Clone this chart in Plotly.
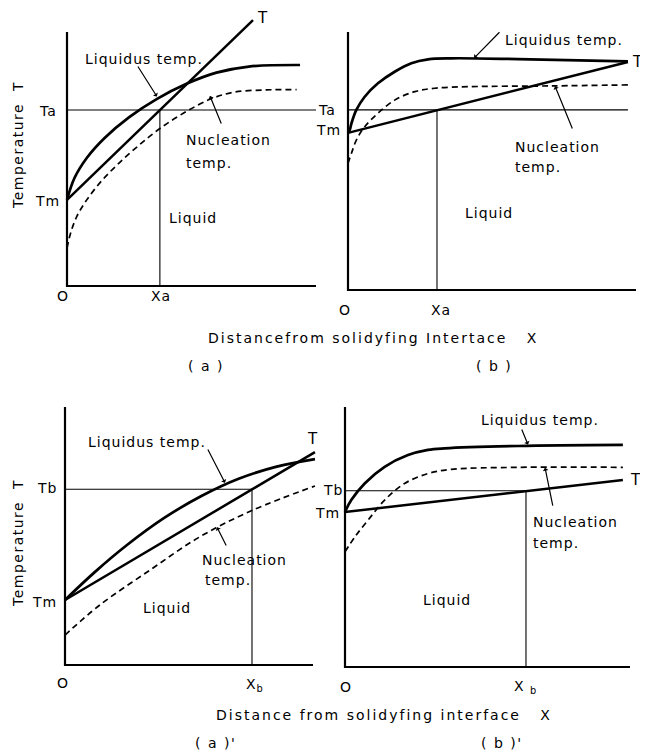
import plotly.graph_objects as go

# page body has an 8px default margin -> the figure is placed at (8, 8)
OFF = 8
W, H = 640, 746
FONT = "DejaVu Sans"

# ---------------- data (arbitrary units: axis length = 100) ----------------
# Panel (a)
A_LIQ_X = [0, 3, 8, 15, 25, 36, 48, 60, 73, 93.6]
A_LIQ_Y = [33.9, 42.5, 50.5, 58.2, 66.5, 73.6, 79.6, 84.0, 86.4, 87.0]
A_NUC_X = [0, 1.5, 4, 8, 14, 21, 29, 37.3, 46.7, 57.4, 67, 80, 92.2]
A_NUC_Y = [14.9, 21.0, 27.5, 34.0, 41.5, 48.5, 55.5, 62.0, 68.0, 73.5, 76.3, 77.2, 77.3]
A_T_X = [0, 74.7]
A_T_Y = [33.9, 104.7]
A_TA, A_XA, A_TA_END = 69.3, 37.3, 100

# Panel (b)
B_LIQ_X = [0, 0.6, 1.2, 2.9, 5.8, 10.4, 16.2, 22.0, 27.8, 35.9, 59.0, 97.2]
B_LIQ_Y = [60.9, 62.0, 64.6, 69.8, 74.9, 80.1, 84.6, 87.9, 89.4, 89.8, 89.5, 88.6]
B_NUC_X = [0, 1.2, 2.9, 5.8, 10.4, 16.2, 23.2, 30.1, 41.7, 70.6, 97.2]
B_NUC_Y = [49.1, 53.0, 58.1, 63.3, 68.5, 73.6, 76.9, 78.2, 78.8, 79.1, 79.5]
B_T_X = [0, 97.2]
B_T_Y = [60.9, 88.4]
B_TA, B_XA, B_TA_END = 69.8, 30.9, 97.2

# Panel (a)'
C_LIQ_X = [0, 12, 25, 40, 55, 70, 85, 100.8]
C_LIQ_Y = [25.2, 36.0, 46.5, 57.0, 65.5, 72.2, 76.8, 79.8]
C_NUC_X = [0, 14.1, 34.3, 54.4, 75.9, 100.8]
C_NUC_Y = [11.6, 23.3, 36.8, 49.7, 60.1, 69.4]
C_T_X = [0, 100.8]
C_T_Y = [25.2, 82.5]
C_TB, C_XB = 68.1, 75.4

# Panel (b)'
D_LIQ_X = [0, 2.2, 6.9, 13.9, 22.1, 29.1, 35.0, 60.7, 97.5]
D_LIQ_Y = [59.6, 64.2, 70.6, 77.0, 81.5, 83.5, 84.1, 85.0, 85.4]
D_NUC_X = [0, 3.5, 8.1, 13.9, 20.9, 29.1, 37.3, 60.7, 97.5]
D_NUC_Y = [44.3, 50.1, 56.5, 64.2, 70.6, 74.4, 76.0, 76.8, 76.8]
D_T_X = [0, 97.5]
D_T_Y = [59.6, 71.9]
D_TB, D_XB = 67.8, 63.5

# ---------------- panel geometry (page pixels) ----------------
PANELS = {
    "a":  dict(x0=67,  sx=2.49, y0=286, sy=2.54, box=(20, 326, 8, 312)),
    "b":  dict(x0=348, sx=2.88, y0=290, sy=2.58, box=(314, 647, 12, 320)),
    "a2": dict(x0=65,  sx=2.48, y0=665, sy=2.58, box=(20, 324, 392, 698)),
    "b2": dict(x0=345, sx=2.85, y0=667, sy=2.60, box=(314, 647, 392, 698)),
}


def px2paper_x(px):
    return (px - OFF) / W


def py2paper_y(py):
    return 1 - (py - OFF) / H


fig = go.Figure()
layout_axes = {}
refs = {}
for i, (key, p) in enumerate(PANELS.items(), start=1):
    l, r, t, b = p["box"]
    xr = [(l - p["x0"]) / p["sx"], (r - p["x0"]) / p["sx"]]
    yr = [(p["y0"] - b) / p["sy"], (p["y0"] - t) / p["sy"]]
    sfx = "" if i == 1 else str(i)
    common = dict(showgrid=False, zeroline=False, showticklabels=False,
                  showline=False, ticks="", fixedrange=True)
    layout_axes["xaxis" + sfx] = dict(domain=[px2paper_x(l), px2paper_x(r)],
                                      range=xr, anchor="y" + sfx, **common)
    layout_axes["yaxis" + sfx] = dict(domain=[py2paper_y(b), py2paper_y(t)],
                                      range=yr, anchor="x" + sfx, **common)
    refs[key] = ("x" + sfx, "y" + sfx)


def spaced(s, ls=1):
    return f'<span style="letter-spacing:{ls}px">{s}</span>'


def line(key, x, y, width=1.2, dash="solid", smooth=False):
    xa, ya = refs[key]
    fig.add_trace(go.Scatter(
        x=x, y=y, mode="lines", xaxis=xa, yaxis=ya, showlegend=False,
        hoverinfo="skip",
        line=dict(color="black", width=width, dash=dash,
                  shape="spline" if smooth else "linear",
                  smoothing=1.0 if smooth else None)))


def text(key, x, y, s, size=14, anchor="center", ls=1):
    xa, ya = refs[key]
    fig.add_annotation(x=x, y=y, xref=xa, yref=ya, text=spaced(s, ls),
                       showarrow=False, xanchor=anchor, yanchor="middle",
                       font=dict(family=FONT, size=size, color="black"))


def pointer(key, hx, hy, tx, ty):
    xa, ya = refs[key]
    fig.add_annotation(x=hx, y=hy, xref=xa, yref=ya, ax=tx, ay=ty,
                       axref=xa, ayref=ya, text="", showarrow=True,
                       arrowhead=1, arrowsize=0.8, arrowwidth=1.2,
                       arrowcolor="black")


def panel(key, liq, nuc, tl, tref, xref, tref_end, xmax=100):
    line(key, [0, 0, xmax], [100, 0, 0], width=2.2)
    line(key, [0, tref_end], [tref, tref], width=1.1)
    line(key, [xref, xref], [0, tref], width=1.1)
    line(key, liq[0], liq[1], width=2.7, smooth=True)
    line(key, nuc[0], nuc[1], width=1.7, dash="6px,4px", smooth=True)
    line(key, tl[0], tl[1], width=2.5)


panel("a", (A_LIQ_X, A_LIQ_Y), (A_NUC_X, A_NUC_Y), (A_T_X, A_T_Y), A_TA, A_XA, A_TA_END)
panel("b", (B_LIQ_X, B_LIQ_Y), (B_NUC_X, B_NUC_Y), (B_T_X, B_T_Y), B_TA, B_XA, B_TA_END)
panel("a2", (C_LIQ_X, C_LIQ_Y), (C_NUC_X, C_NUC_Y), (C_T_X, C_T_Y), C_TB, C_XB, C_XB)
panel("b2", (D_LIQ_X, D_LIQ_Y), (D_NUC_X, D_NUC_Y), (D_T_X, D_T_Y), D_TB, D_XB, D_XB)

# ---- labels panel (a)
text("a", 30.9, 89.5, "Liquidus temp.")
pointer("a", 36.1, 74.6, 28.1, 87.0)
text("a", 47.0, 57.5, "Nucleation", anchor="left")
text("a", 47.0, 48.4, "temp.", anchor="left")
pointer("a", 57.4, 74.8, 62.2, 63.4)
text("a", 40.2, 26.8, "Liquid", anchor="left")
text("a", 78.7, 105.5, "T", size=15)
text("a", -7.6, 68.9, "Ta")
text("a", -8.0, 33.5, "Tm")
text("a", -1.6, -4.0, "O")
text("a", 37.8, -4.0, "Xa")

# ---- labels panel (b)
text("b", 75.0, 96.9, "Liquidus temp.")
pointer("b", 43.8, 89.9, 53.1, 100.5)
text("b", 57.3, 55.4, "Nucleation", anchor="left")
text("b", 57.3, 47.7, "temp.", anchor="left")
pointer("b", 71.9, 79.0, 78.1, 62.0)
text("b", 40.0, 29.8, "Liquid", anchor="left")
text("b", 100.6, 88.4, "T", size=15, ls=0)
text("b", -7.3, 69.8, "Ta")
text("b", -6.9, 62.0, "Tm")
text("b", -1.0, -7.8, "O")
text("b", 32.3, -7.8, "Xa")

# ---- labels panel (a)'
text("a2", 33.1, 86.4, "Liquidus temp.")
pointer("a2", 64.5, 70.6, 57.3, 84.1)
text("a2", 54.4, 40.7, "Nucleation", anchor="left")
text("a2", 55.6, 32.9, "temp.", anchor="left")
pointer("a2", 61.3, 53.4, 65.3, 45.7)
text("a2", 30.5, 22.1, "Liquid", anchor="left")
text("a2", 99.6, 87.5, "T", size=15)
text("a2", -7.3, 68.6, "Tb")
text("a2", -8.1, 24.4, "Tm")
text("a2", -0.8, -7.0, "O")
text("a2", 76.6, -7.8, "X<sub>b</sub>")

# ---- labels panel (b)'
text("b2", 68.4, 95.0, "Liquidus temp.")
pointer("b2", 64.2, 85.6, 61.8, 91.9)
text("b2", 65.3, 55.8, "Nucleation", anchor="left")
text("b2", 65.3, 47.7, "temp.", anchor="left")
pointer("b2", 70.2, 76.6, 73.0, 61.5)
text("b2", 26.5, 25.8, "Liquid", anchor="left")
text("b2", 102.0, 72.0, "T", size=15, ls=0)
text("b2", -4.2, 68.1, "Tb")
text("b2", -6.0, 59.2, "Tm")
text("b2", 0.4, -7.7, "O")
text("b2", 63.2, -7.7, "X <sub>b</sub>")


# ---- paper-level titles
def ptext(px, py, s, size=14, angle=0, ls=1.5):
    fig.add_annotation(x=px2paper_x(px), y=py2paper_y(py), xref="paper",
                       yref="paper", text=spaced(s, ls), showarrow=False,
                       textangle=angle, xanchor="center", yanchor="middle",
                       font=dict(family=FONT, size=size, color="black"))


ptext(18, 145, "Temperature  T", angle=-90)
ptext(18, 543, "Temperature  T", angle=-90)
ptext(373, 338, "Distancefrom solidyfing Intertace   X", ls=2)
ptext(384, 715, "Distance from solidyfing interface   X", ls=2)
ptext(206, 366, "( a )")
ptext(494, 366, "( b )")
ptext(215, 743, "( a )'")
ptext(502, 743, "( b )'")

fig.update_layout(width=W, height=H, margin=dict(l=0, r=0, t=0, b=0),
                  paper_bgcolor="white", plot_bgcolor="rgba(0,0,0,0)",
                  showlegend=False, **layout_axes)

fig.write_html("out.html")
